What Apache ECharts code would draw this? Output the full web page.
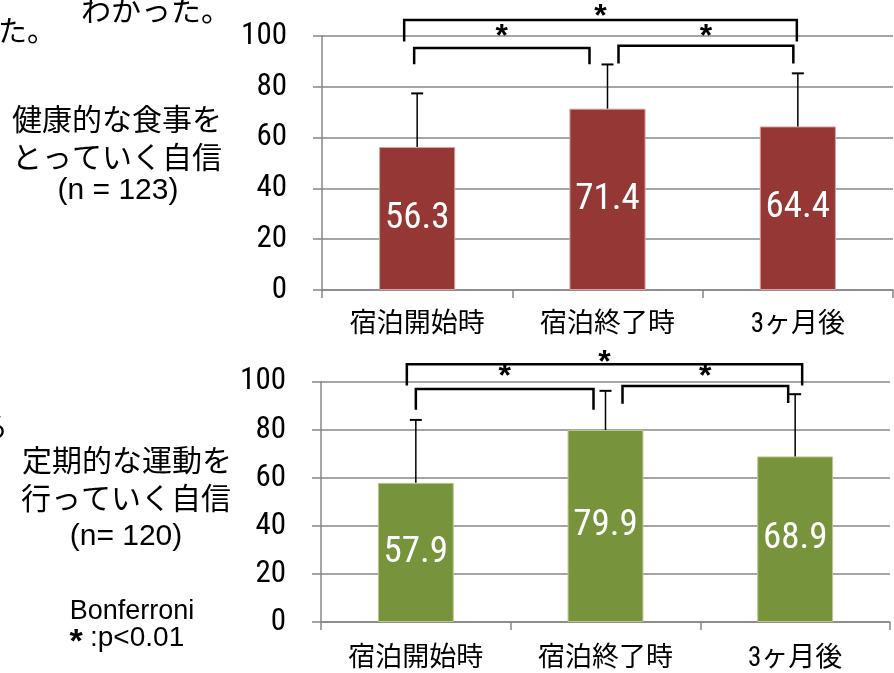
<!DOCTYPE html>
<html>
<head>
<meta charset="utf-8">
<script src="https://cdn.jsdelivr.net/npm/echarts@6/dist/echarts.min.js"></script>
<style>
html, body { margin: 0; padding: 0; background: #fff; }
#main { width: 894px; height: 673px; }
</style>
</head>
<body>
<div id="main"></div>
<script>
var categories = ['宿泊開始時', '宿泊終了時', '3ヶ月後'];
var yTicks = [0, 20, 40, 60, 80, 100];

// 健康的な食事をとっていく自信
var dietMean = [56.3, 71.4, 64.4];
var dietSD = [21.1, 17.4, 20.9];
// 定期的な運動を行っていく自信
var exerciseMean = [57.9, 79.9, 68.9];
var exerciseSD = [26.2, 16.3, 25.9];

// significance brackets: [from, to, top level, left leg end, right leg end, star level]
var dietBrackets = [
	[0, 2, 106.3, 97.8, 97.8, 110.2],
	[0, 1, 95.3, 88.9, 88.9, 102.3],
	[1, 2, 96.2, 89.2, 89.2, 102.3]
];
var exerciseBrackets = [
	[0, 2, 107.3, 98.4, 98.4, 110.7],
	[0, 1, 97.0, 88.3, 88.3, 104.6],
	[1, 2, 98.2, 90.8, 91.1, 104.6]
];
// pixel nudges of the bracket legs from the bar centres
var dietNudge = [[-13, -1], [-3, -18], [11, -4.5]];
var exerciseNudge = [[-9, 7], [0, -12], [17, -7]];

var numFont = '"Roboto Condensed", "Noto Sans CJK JP", sans-serif';
var jpFont = '"Noto Sans CJK JP", sans-serif';
var gridColor = '#878787';

var chart = echarts.init(document.getElementById('main'));

function errorRender(params, api) {
	var x = api.value(0);
	var base = api.coord([x, api.value(1)]);
	var tip = api.coord([x, api.value(1) + api.value(2)]);
	return {
		type: 'group',
		children: [
			{type: 'line', shape: {x1: base[0], y1: base[1], x2: tip[0], y2: tip[1]}, style: {stroke: '#000', lineWidth: 1.5}},
			{type: 'line', shape: {x1: tip[0] - 6, y1: tip[1], x2: tip[0] + 6, y2: tip[1]}, style: {stroke: '#000', lineWidth: 2}}
		]
	};
}

function bracketRender(nudge) {
	return function (params, api) {
		var i = params.dataIndex;
		var p1 = api.coord([api.value(0), api.value(2)]);
		var p2 = api.coord([api.value(1), api.value(2)]);
		var x1 = p1[0] + nudge[i][0];
		var x2 = p2[0] + nudge[i][1];
		var yL = api.coord([api.value(0), api.value(3)])[1];
		var yR = api.coord([api.value(1), api.value(4)])[1];
		var ys = api.coord([api.value(0), api.value(5)])[1];
		return {
			type: 'group',
			children: [
				{type: 'polyline', shape: {points: [[x1, yL], [x1, p1[1]], [x2, p1[1]], [x2, yR]]},
					style: {stroke: '#000', lineWidth: 2.5, fill: 'none'}},
				// the asterisk sits high in its box, so push it down a bit
				{type: 'text', x: (x1 + x2) / 2, y: ys + 7,
					style: {text: '*', fill: '#000', font: 'bold 32px "Liberation Sans"', align: 'center', verticalAlign: 'middle'}}
			]
		};
	};
}

function errData(mean, sd) {
	return mean.map(function (m, i) { return [i, m, sd[i]]; });
}

function xAxisOf(gi, margin) {
	return {
		type: 'category',
		gridIndex: gi,
		data: categories,
		axisLine: {lineStyle: {color: gridColor, width: 1.5}},
		axisTick: {show: true, length: 8, lineStyle: {color: gridColor, width: 1.5}},
		axisLabel: {color: '#000', fontSize: 27, fontFamily: numFont, margin: margin}
	};
}

function yAxisOf(gi) {
	return {
		type: 'value',
		gridIndex: gi,
		min: yTicks[0],
		max: yTicks[yTicks.length - 1],
		interval: 20,
		axisLine: {show: true, lineStyle: {color: gridColor, width: 1.5}},
		axisTick: {show: true, length: 9, lineStyle: {color: gridColor, width: 1.5}},
		splitLine: {lineStyle: {color: gridColor, width: 1.5}},
		axisLabel: {color: '#000', fontSize: 31, fontFamily: numFont, margin: 35}
	};
}

function barOf(gi, data, color, border) {
	return {
		type: 'bar',
		xAxisIndex: gi,
		yAxisIndex: gi,
		data: data,
		barWidth: '40%',
		itemStyle: {color: color, borderColor: border, borderWidth: 1},
		label: {show: true, position: 'inside', color: '#fff', fontSize: 37, fontFamily: numFont},
		silent: true
	};
}

function txt(x, y, s, font, align) {
	return {type: 'text', x: x, y: y, style: {text: s, font: font, fill: '#000', align: align || 'center', verticalAlign: 'middle'}};
}

var option = {
	backgroundColor: '#fff',
	animation: false,
	grid: [
		{left: 322, right: 1, top: 36, height: 254},
		{left: 321, right: 4, top: 381.7, height: 241.6}
	],
	xAxis: [xAxisOf(0, 22), xAxisOf(1, 24)],
	yAxis: [yAxisOf(0), yAxisOf(1)],
	series: [
		barOf(0, dietMean, '#953735', '#d8a3a2'),
		{type: 'custom', xAxisIndex: 0, yAxisIndex: 0, data: errData(dietMean, dietSD), renderItem: errorRender, silent: true, z: 5},
		{type: 'custom', xAxisIndex: 0, yAxisIndex: 0, data: dietBrackets, renderItem: bracketRender(dietNudge), silent: true, z: 5},
		barOf(1, exerciseMean, '#77933c', '#b7c98f'),
		{type: 'custom', xAxisIndex: 1, yAxisIndex: 1, data: errData(exerciseMean, exerciseSD), renderItem: errorRender, silent: true, z: 5},
		{type: 'custom', xAxisIndex: 1, yAxisIndex: 1, data: exerciseBrackets, renderItem: bracketRender(exerciseNudge), silent: true, z: 5}
	],
	graphic: [
		txt(-2, 31, 'た。', '29px ' + jpFont, 'left'),
		txt(81, 10, 'わかった。', '30px ' + jpFont, 'left'),
		txt(117, 119, '健康的な食事を', '30px ' + jpFont),
		txt(117, 157, 'とっていく自信', '30px ' + jpFont),
		txt(118, 191, '(n = 123)', '30px "Liberation Sans"'),
		txt(-21, 427, 'る', '29px ' + jpFont, 'left'),
		txt(127, 460, '定期的な運動を', '30px ' + jpFont),
		txt(126, 498, '行っていく自信', '30px ' + jpFont),
		txt(126, 537, '(n= 120)', '30px "Liberation Sans"'),
		txt(132, 612, 'Bonferroni', '27px "Liberation Sans"'),
		txt(76, 643, '*', 'bold 34px "Liberation Sans"'),
		txt(90, 638, ':p<0.01', '28px "Liberation Sans"', 'left')
	]
};

chart.setOption(option);
</script>
</body>
</html>
